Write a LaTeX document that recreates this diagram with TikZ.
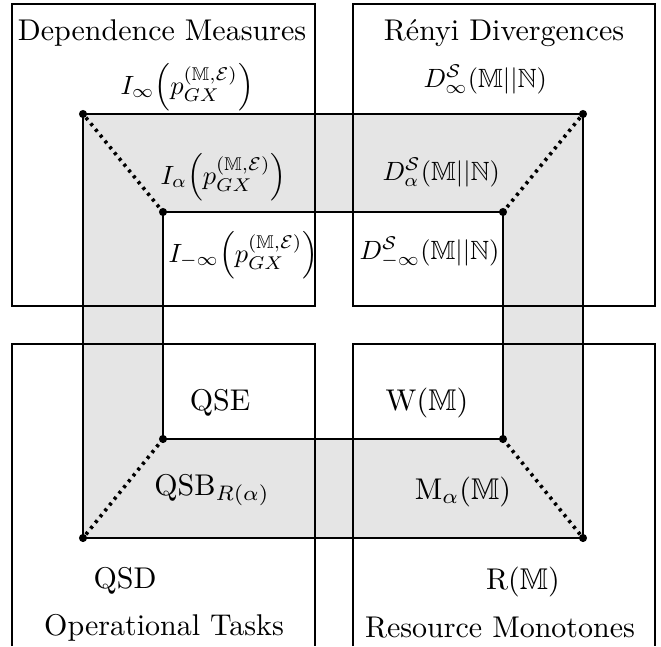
\documentclass[tikz,border=0pt]{standalone}
\usepackage{amsmath}
\usepackage{amssymb}
\usetikzlibrary{backgrounds}
\usetikzlibrary{positioning}

\begin{document}
\begin{tikzpicture}[
x=0.3333pt, y=-0.3333pt,
corner/.style={circle, fill=black, minimum size=2.7pt, inner sep=0},
box/.style={line width=0.8pt},
edge/.style={line width=0.8pt},
link/.style={line width=1.2pt, dash pattern=on 1pt off 1.5pt},
txt/.style={anchor=base, inner sep=0},
mth/.style={anchor=base west, inner sep=0, scale=0.88, transform shape}
]
\useasboundingbox (0,0) rectangle (661,646);

\node[corner] (otl) at (83,114) {};
\node[corner] (otr) at (583,114) {};
\node[corner] (obr) at (583,538) {};
\node[corner] (obl) at (83,538) {};
\node[corner] (itl) at (163,212) {};
\node[corner] (itr) at (503,212) {};
\node[corner] (ibr) at (503,439) {};
\node[corner] (ibl) at (163,439) {};

\begin{scope}[on background layer]
\fill[black!10, even odd rule] (otl.center) -- (otr.center) -- (obr.center) -- (obl.center) -- cycle
  (itl.center) -- (itr.center) -- (ibr.center) -- (ibl.center) -- cycle;
\draw[box] (12,4) rectangle (315,306);
\draw[box] (353,4) rectangle (655,306);
\draw[box] (12,646) -- (12,344) -- (315,344) -- (315,646);
\draw[box] (353,646) -- (353,344) -- (655,344) -- (655,646);
\end{scope}

\draw[edge] (otl.center) -- (otr.center) -- (obr.center) -- (obl.center) -- cycle;
\draw[edge] (itl.center) -- (itr.center) -- (ibr.center) -- (ibl.center) -- cycle;
\foreach \c in {tl,tr,br,bl}
  \draw[link] (o\c) -- (i\c);

\node[txt] (dm) at (162,40) {Dependence Measures};
\node[txt] (rd) at (504,40) {R\'enyi Divergences};
\node[txt] (ot) at (164,635) {Operational Tasks};
\node[txt] (rm) at (500,637) {Resource Monotones};

\node[mth] (iinf) at (120,94) {$I_\infty\Big(p_{GX}^{(\mathbb{M},\mathcal{E})}\Big)$};
\node[mth] (ialpha) at (160,184) {$I_\alpha\Big(p_{GX}^{(\mathbb{M},\mathcal{E})}\Big)$};
\node[mth] (iminf) at (168,262) {$I_{-\infty}\Big(p_{GX}^{(\mathbb{M},\mathcal{E})}\Big)$};

\node[mth] (dinf) at (423,87) {$D^{\mathcal{S}}_{\infty}(\mathbb{M}||\mathbb{N})$};
\node[mth] (dalpha) at (382,180) {$D^{\mathcal{S}}_{\alpha}(\mathbb{M}||\mathbb{N})$};
\node[mth] (dminf) at (359,259) {$D^{\mathcal{S}}_{-\infty}(\mathbb{M}||\mathbb{N})$};

\node[txt] (qse) at (220,410) {QSE};
\node[txt] (qsb) at (212,495) {QSB$_{R(\alpha)}$};
\node[txt] (qsd) at (125,588) {QSD};

\node[txt] (w) at (427,410) {W$(\mathbb{M})$};
\node[txt] (malpha) at (463,499) {M$_\alpha(\mathbb{M})$};
\node[txt] (r) at (523,589) {R$(\mathbb{M})$};
\end{tikzpicture}
\end{document}
